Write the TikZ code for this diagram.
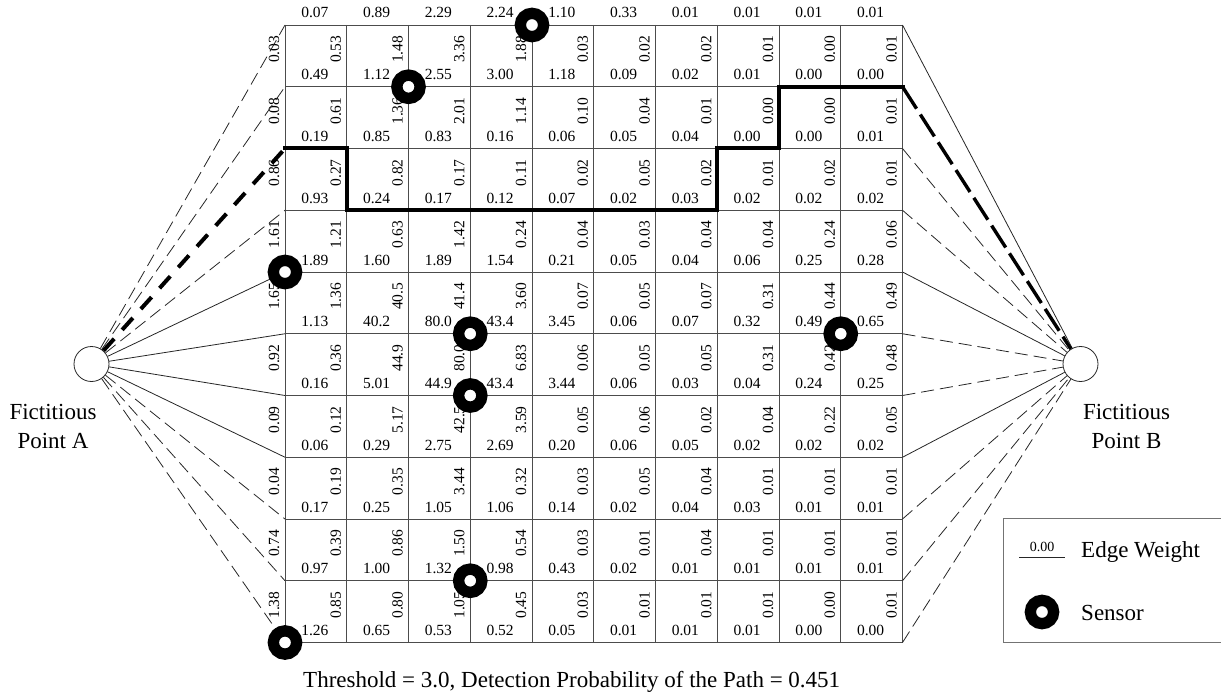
\documentclass[tikz,border=0pt]{standalone}
\usepackage{fontspec}
\setmainfont{Liberation Serif}
\begin{document}
\begin{tikzpicture}[x=1pt,y=-1pt,
  gridline/.style={draw=black!70, line width=0.9pt},
  hl/.style={inner sep=0pt, anchor=base, font=\fontsize{15.5}{18}\selectfont},
  vl/.style={inner sep=0pt, anchor=base, rotate=90, font=\fontsize{15.5}{18}\selectfont},
  fansolid/.style={draw=black!85, line width=0.8pt},
  fandash/.style={draw=black!85, line width=0.8pt, dash pattern=on 13pt off 6pt},
  fanpath/.style={draw=black, line width=4pt, dash pattern=on 16pt off 12pt},
  fanpathb/.style={draw=black, line width=3.4pt, dash pattern=on 26pt off 7pt},
  pathline/.style={draw=black, line width=4pt, line cap=rect},
  sensor/.style={circle, draw=black, fill=white, line width=11.3pt, minimum size=23.3pt, inner sep=0pt},
  fict/.style={circle, draw=black!85, fill=white, line width=0.8pt, minimum size=35pt, inner sep=0pt},
  big/.style={inner sep=0pt, font=\fontsize{23}{28}\selectfont}
]
\useasboundingbox (0,0) rectangle (1221,698);
% grid vertices
\foreach \i in {0,...,10}{
  \foreach \j in {0,...,10}{
    \coordinate (v-\i-\j) at ({285+61.75*\i},{25+61.75*\j});
  }
}
% grid lines
\foreach \k in {0,...,10}{
  \draw[gridline] (v-0-\k) -- (v-10-\k);
  \draw[gridline] (v-\k-0) -- (v-\k-10);
}
% horizontal edge weights (line k, columns 0..9)
\foreach \k/\vals in {
 0/{0.07,0.89,2.29,2.24,1.10,0.33,0.01,0.01,0.01,0.01},
 1/{0.49,1.12,2.55,3.00,1.18,0.09,0.02,0.01,0.00,0.00},
 2/{0.19,0.85,0.83,0.16,0.06,0.05,0.04,0.00,0.00,0.01},
 3/{0.93,0.24,0.17,0.12,0.07,0.02,0.03,0.02,0.02,0.02},
 4/{1.89,1.60,1.89,1.54,0.21,0.05,0.04,0.06,0.25,0.28},
 5/{1.13,40.2,80.0,43.4,3.45,0.06,0.07,0.32,0.49,0.65},
 6/{0.16,5.01,44.9,43.4,3.44,0.06,0.03,0.04,0.24,0.25},
 7/{0.06,0.29,2.75,2.69,0.20,0.06,0.05,0.02,0.02,0.02},
 8/{0.17,0.25,1.05,1.06,0.14,0.02,0.04,0.03,0.01,0.01},
 9/{0.97,1.00,1.32,0.98,0.43,0.02,0.01,0.01,0.01,0.01},
 10/{1.26,0.65,0.53,0.52,0.05,0.01,0.01,0.01,0.00,0.00}}{
  \foreach \v [count=\c from 0] in \vals {
    \node[hl] (h-\k-\c) at ({285+61.75*(\c+0.5)-1},{25+61.75*\k-7}) {\v};
  }
}
% vertical edge weights (row r, lines 0..10)
\foreach \r/\vals in {
 1/{0.03,0.53,1.48,3.36,1.88,0.03,0.02,0.02,0.01,0.00,0.01},
 2/{0.08,0.61,1.36,2.01,1.14,0.10,0.04,0.01,0.00,0.00,0.01},
 3/{0.86,0.27,0.82,0.17,0.11,0.02,0.05,0.02,0.01,0.02,0.01},
 4/{1.61,1.21,0.63,1.42,0.24,0.04,0.03,0.04,0.04,0.24,0.06},
 5/{1.65,1.36,40.5,41.4,3.60,0.07,0.05,0.07,0.31,0.44,0.49},
 6/{0.92,0.36,44.9,80.0,6.83,0.06,0.05,0.05,0.31,0.42,0.48},
 7/{0.09,0.12,5.17,42.5,3.59,0.05,0.06,0.02,0.04,0.22,0.05},
 8/{0.04,0.19,0.35,3.44,0.32,0.03,0.05,0.04,0.01,0.01,0.01},
 9/{0.74,0.39,0.86,1.50,0.54,0.03,0.01,0.04,0.01,0.01,0.01},
 10/{1.38,0.85,0.80,1.05,0.45,0.03,0.01,0.01,0.01,0.00,0.01}}{
  \foreach \v [count=\c from 0] in \vals {
    \node[vl] (w-\r-\c) at ({285+61.75*\c-6},{25+61.75*(\r-0.5)-6.5}) {\v};
  }
}
% fictitious points
\node[fict] (A) at (91.5,364) {};
\node[fict] (B) at (1080.5,364) {};
\node[big, anchor=base] (Alab) at (53,419) {Fictitious};
\node[big, anchor=base] (Alab2) at (53,448) {Point A};
\node[big, anchor=base] (Blab) at (1126.5,419) {Fictitious};
\node[big, anchor=base] (Blab2) at (1126.5,448) {Point B};
% fan lines from A
\foreach \k in {0,1,3,8,9,10}{ \draw[fandash] (A) -- (v-0-\k); }
\foreach \k in {4,5,6,7}{ \draw[fansolid] (A) -- (v-0-\k); }
\draw[fanpath] (A) -- (v-0-2);
% fan lines to B
\foreach \k in {2,3,5,6,8,9,10}{ \draw[fandash] (v-10-\k) -- (B); }
\foreach \k in {0,4,7}{ \draw[fansolid] (v-10-\k) -- (B); }
\draw[fanpathb] (v-10-1) -- (B);
% path
\draw[pathline] (v-0-2) -- (v-1-2) -- (v-1-3) -- (v-7-3) -- (v-7-2) -- (v-8-2) -- (v-8-1) -- (v-10-1);
% sensors
\foreach \i/\j in {4/0,2/1,0/4,3/5,3/6,9/5,3/9,0/10}{
  \node[sensor] (s-\i-\j) at (v-\i-\j) {};
}
% caption
\node[big, anchor=base west] (cap) at (303,687) {Threshold = 3.0, Detection Probability of the Path = 0.451};
% legend
\draw[draw=black!55, line width=0.9pt, fill=white] (1003,518) rectangle (1230,642);
\coordinate (lg1) at (1019,557);
\coordinate (lg2) at (1065,557);
\draw[fansolid] (lg1) -- (lg2);
\node[inner sep=0pt, anchor=base, font=\fontsize{14}{16}\selectfont] (lgnum) at (1042,551) {0.00};
\node[big, anchor=base west] (lgew) at (1081,557) {Edge Weight};
\node[sensor] (lgs) at (1042,612) {};
\node[big, anchor=base west] (lgsen) at (1081,620) {Sensor};
\end{tikzpicture}
\end{document}
